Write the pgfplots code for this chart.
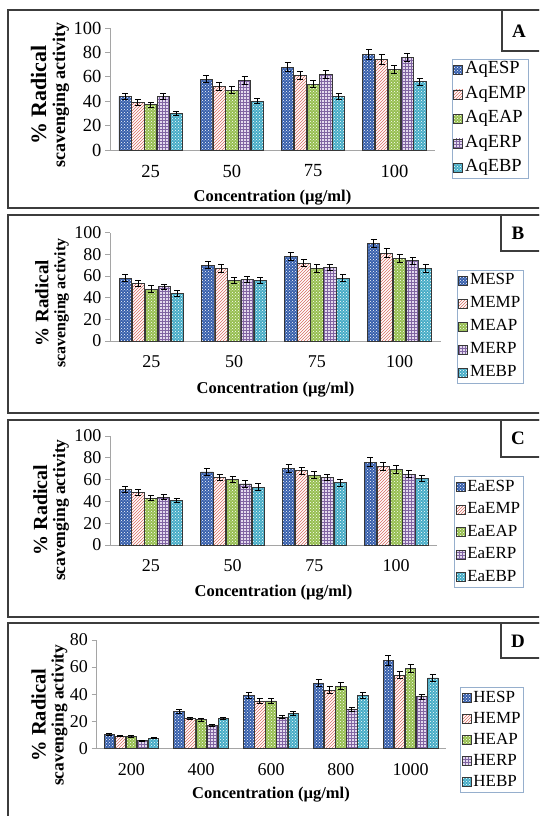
\documentclass[border=0pt]{standalone}
\usepackage{fontspec}
\setmainfont{Liberation Serif}
\usepackage{pgfplots}
\usepackage{pgfplotstable}
\pgfplotsset{compat=1.18}
\usetikzlibrary{patterns}

\definecolor{axgray}{RGB}{165,165,165}
\definecolor{frame}{RGB}{60,60,60}
\definecolor{legblue}{RGB}{150,175,205}
\definecolor{cblue}{RGB}{55,95,172}
\definecolor{cred}{RGB}{215,105,95}
\definecolor{cgreen}{RGB}{150,190,80}
\definecolor{cpurp}{RGB}{128,100,162}
\definecolor{cpurpbg}{RGB}{228,218,238}
\definecolor{ccyan}{RGB}{70,172,198}
\definecolor{bord}{RGB}{55,55,55}

\pgfplotstableread{
x s1 e1 s2 e2 s3 e3 s4 e4 s5 e5
0 44 2.5 39 2.5 37 2 44 2.5 30 1.5
1 58 3 52 3 49 3 57 3 40 2
2 68 3.5 61 3 54 3 62 3 44 2.5
3 78 4 74 4 66 3.5 76 3.5 56 3
}\tabA
\pgfplotstableread{
x s1 e1 s2 e2 s3 e3 s4 e4 s5 e5
0 58 3 53 2.5 48 3 50 2.5 44 2.5
1 70 3.5 67 3.5 56 3 57 3 56 3
2 78 3.5 72 3.5 67 3.5 68 3 58 3
3 90 4 81 4 76 3.5 74 3.5 67 3.5
}\tabB
\pgfplotstableread{
x s1 e1 s2 e2 s3 e3 s4 e4 s5 e5
0 51 2.5 48 2.5 43 2.5 44 2.5 41 2
1 67 3.5 62 3 60 3 56 3 53 3
2 70 3.5 68 3.5 64 3 62 3 57 3
3 76 4 72 4 69 3.5 65 3 61 3
}\tabC
\pgfplotstableread{
x s1 e1 s2 e2 s3 e3 s4 e4 s5 e5
0 10 0.7 9 0.6 8.5 0.6 5.5 0.5 7.5 0.5
1 27 1.5 22 1 21 1 17 0.8 22 1
2 39 2 35 2 35 2 23 1 26 1.5
3 48 2.5 43 2.5 46 2.5 29 1.5 39 2.5
4 65 3.5 54 2.5 59 2.8 38 2 52 2.8
}\tabD

\pgfplotsset{
  sA/.style={draw=bord, line width=0.8pt, fill=cblue, postaction={pattern=crosshatch dots, pattern color=white}},
  sB/.style={draw=bord, line width=0.8pt, fill=white, postaction={pattern=north east lines, pattern color=cred}},
  sC/.style={draw=bord, line width=0.8pt, fill=cgreen, postaction={pattern=crosshatch dots, pattern color=white}},
  sD/.style={draw=bord, line width=0.8pt, fill=cpurpbg, postaction={pattern=grid, pattern color=cpurp}},
  sE/.style={draw=bord, line width=0.8pt, fill=ccyan, postaction={pattern=crosshatch dots, pattern color=white}},
  eb/.style={error bars/.cd, y dir=both, y explicit,
     error bar style={line width=1pt, black, solid},
     error mark options={rotate=90, mark size=3pt, line width=1pt, black}},
  legsq/.style={legend image code/.code={\draw[##1] (0pt,-4.5pt) rectangle (9pt,4.5pt);}},
  panel/.style={
    scale only axis,
    ybar=0.6pt, bar width=0.15,
    ymin=0,
    xtick=data,
    axis x line*=bottom, axis y line*=left,
    axis line style={-, draw=axgray, line width=0.8pt},
    ytick style={draw=axgray, line width=0.8pt},
    xtick style={draw=none},
    tick align=outside, major tick length=5pt,
    ticklabel style={font=\fontsize{18}{20}\selectfont},
    /pgf/number format/assume math mode=true,
    xticklabel style={anchor=center, yshift=-16pt},
    xlabel={Concentration (µg/ml)},
    xlabel style={font=\bfseries\fontsize{16.5}{17}\selectfont},
    legend cell align=left,
    every axis plot post/.append style={legsq},
    legend style={draw=legblue, line width=1pt, fill=white, inner sep=1pt,
      anchor=north west,
      font=\fontsize{17}{20}\selectfont,
      nodes={inner sep=2pt, text height=11.5pt, text depth=3.5pt},
      /tikz/every even column/.append style={column sep=1pt}},
  }
}
% #1 size of first line, #2 baseline skip
\newcommand{\ylab}[2]{{\fontsize{#1}{#2}\selectfont\% Radical}\\scavenging activity}
\newcommand{\ylabfont}[2]{\bfseries\fontsize{#1}{#2}\selectfont}

\begin{document}
\begin{tikzpicture}
\useasboundingbox (0pt,0pt) rectangle (539pt,-816pt);
\clip (0pt,0pt) rectangle (539pt,-816pt);
\fill[white] (0pt,0pt) rectangle (539pt,-816pt);

% ---------- Panel A ----------
\begin{axis}[panel, at={(110pt,-150pt)}, anchor=south west,
  width=325pt, height=122pt,
  xmin=-0.5, xmax=3.5, ymax=100, ytick={0,20,...,100},
  xticklabels={25,50,75,100},
  ticklabel style={font=\fontsize{18.5}{20}\selectfont},
  ylabel={\ylab{22}{19}},
  xlabel style={at={(axis description cs:0.5,-0.393)}, anchor=center},
  ylabel style={at={(axis description cs:-0.185,0.45)}, anchor=center, align=center, font=\ylabfont{18}{19}},
  legend style={at={(1.052,0.746)}, row sep=5.5pt, font=\fontsize{18.5}{20}\selectfont}]
\addplot[sA, eb] table[x=x, y=s1, y error=e1] {\tabA};
\addplot[sB, eb] table[x=x, y=s2, y error=e2] {\tabA};
\addplot[sC, eb] table[x=x, y=s3, y error=e3] {\tabA};
\addplot[sD, eb] table[x=x, y=s4, y error=e4] {\tabA};
\addplot[sE, eb] table[x=x, y=s5, y error=e5] {\tabA};
\legend{AqESP,AqEMP,AqEAP,AqERP,AqEBP}
\end{axis}

% ---------- Panel B ----------
\begin{axis}[panel, at={(110pt,-341pt)}, anchor=south west,
  width=331pt, height=108.3pt,
  xmin=-0.5, xmax=3.5, ymax=100, ytick={0,20,...,100},
  xticklabels={25,50,75,100},
  ylabel={\ylab{19}{17}},
  xlabel style={at={(axis description cs:0.5,-0.45)}, anchor=center},
  ylabel style={at={(axis description cs:-0.175,0.35)}, anchor=center, align=center, font=\ylabfont{16}{17}},
  legend style={at={(1.048,0.656)}, row sep=4pt}]
\addplot[sA, eb] table[x=x, y=s1, y error=e1] {\tabB};
\addplot[sB, eb] table[x=x, y=s2, y error=e2] {\tabB};
\addplot[sC, eb] table[x=x, y=s3, y error=e3] {\tabB};
\addplot[sD, eb] table[x=x, y=s4, y error=e4] {\tabB};
\addplot[sE, eb] table[x=x, y=s5, y error=e5] {\tabB};
\legend{MESP,MEMP,MEAP,MERP,MEBP}
\end{axis}

% ---------- Panel C ----------
\begin{axis}[panel, at={(110pt,-545pt)}, anchor=south west,
  width=327pt, height=109pt,
  xmin=-0.5, xmax=3.5, ymax=100, ytick={0,20,...,100},
  xticklabels={25,50,75,100},
  ylabel={\ylab{20}{18}},
  xlabel style={at={(axis description cs:0.5,-0.44)}, anchor=center},
  ylabel style={at={(axis description cs:-0.18,0.32)}, anchor=center, align=center, font=\ylabfont{17.5}{18}},
  legend style={at={(1.052,0.633)}, row sep=3.5pt}]
\addplot[sA, eb] table[x=x, y=s1, y error=e1] {\tabC};
\addplot[sB, eb] table[x=x, y=s2, y error=e2] {\tabC};
\addplot[sC, eb] table[x=x, y=s3, y error=e3] {\tabC};
\addplot[sD, eb] table[x=x, y=s4, y error=e4] {\tabC};
\addplot[sE, eb] table[x=x, y=s5, y error=e5] {\tabC};
\legend{EaESP,EaEMP,EaEAP,EaERP,EaEBP}
\end{axis}

% ---------- Panel D ----------
\begin{axis}[panel, at={(96.5pt,-748.3pt)}, anchor=south west,
  width=349pt, height=108.3pt,
  xmin=-0.5, xmax=4.5, ymax=80, ytick={0,20,...,80},
  xticklabels={200,400,600,800,1000},
  ylabel={\ylab{20.5}{18}},
  xlabel style={at={(axis description cs:0.5,-0.428)}, anchor=center},
  ylabel style={at={(axis description cs:-0.135,0.306)}, anchor=center, align=center, font=\ylabfont{17.5}{18}},
  legend style={at={(1.042,0.566)}, row sep=2pt}]
\addplot[sA, eb] table[x=x, y=s1, y error=e1] {\tabD};
\addplot[sB, eb] table[x=x, y=s2, y error=e2] {\tabD};
\addplot[sC, eb] table[x=x, y=s3, y error=e3] {\tabD};
\addplot[sD, eb] table[x=x, y=s4, y error=e4] {\tabD};
\addplot[sE, eb] table[x=x, y=s5, y error=e5] {\tabD};
\legend{HESP,HEMP,HEAP,HERP,HEBP}
\end{axis}

% ---------- frames and panel letters ----------
\begin{scope}[draw=frame, line width=1.8pt]
\draw (8pt,-10pt) rectangle (560pt,-208pt);
\draw (8pt,-215pt) rectangle (560pt,-413pt);
\draw (8pt,-420pt) rectangle (560pt,-617pt);
\draw (8pt,-623pt) rectangle (560pt,-840pt);
\draw[line width=1.2pt] (502pt,-10pt) rectangle (560pt,-51pt);
\draw[line width=1.2pt] (501pt,-215pt) rectangle (560pt,-251pt);
\draw[line width=1.2pt] (501pt,-420pt) rectangle (560pt,-457pt);
\draw[line width=1.2pt] (501pt,-623pt) rectangle (560pt,-658pt);
\end{scope}
\begin{scope}[every node/.style={font=\bfseries\fontsize{19}{20}\selectfont, anchor=center}]
\node at (519pt,-31pt) {A};
\node at (518pt,-233pt) {B};
\node at (518pt,-438pt) {C};
\node at (518pt,-641pt) {D};
\end{scope}
\end{tikzpicture}
\end{document}
